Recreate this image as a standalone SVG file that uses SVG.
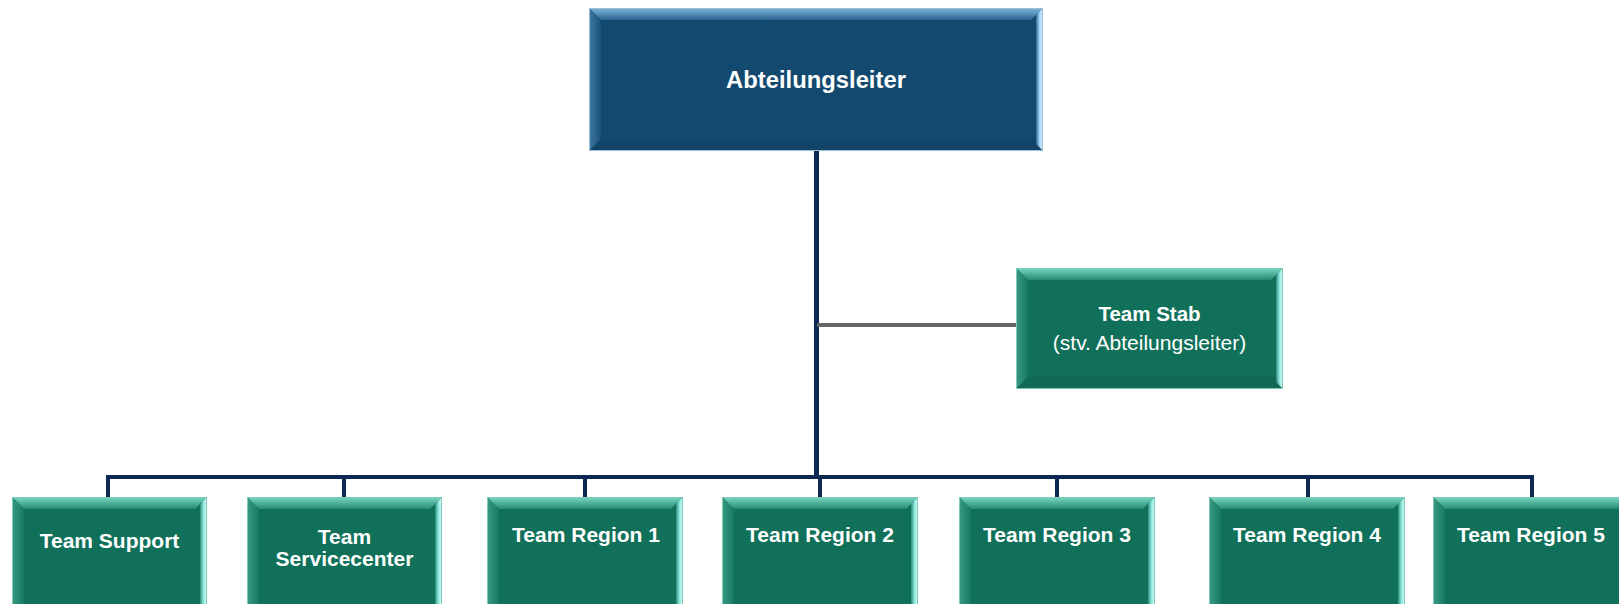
<svg xmlns="http://www.w3.org/2000/svg" width="1619" height="604" viewBox="0 0 1619 604">
<defs>
<linearGradient id="bTop" x1="0" y1="0" x2="0" y2="1"><stop offset="0" stop-color="#7fb6dc"/><stop offset="1" stop-color="#2a6590"/></linearGradient>
<linearGradient id="bLeft" x1="0" y1="0" x2="1" y2="0"><stop offset="0" stop-color="#3f7aa3"/><stop offset="1" stop-color="#1a5178"/></linearGradient>
<linearGradient id="bRight" x1="0" y1="0" x2="1" y2="0"><stop offset="0" stop-color="#2a6896"/><stop offset="0.5" stop-color="#9fd4f5"/><stop offset="1" stop-color="#e8f8ff"/></linearGradient>
<linearGradient id="gTop" x1="0" y1="0" x2="0" y2="1"><stop offset="0" stop-color="#7ad8c2"/><stop offset="1" stop-color="#258a72"/></linearGradient>
<linearGradient id="gLeft" x1="0" y1="0" x2="1" y2="0"><stop offset="0" stop-color="#3a9a82"/><stop offset="1" stop-color="#167a63"/></linearGradient>
<linearGradient id="gRight" x1="0" y1="0" x2="1" y2="0"><stop offset="0" stop-color="#2a8f78"/><stop offset="0.5" stop-color="#8fe6dc"/><stop offset="1" stop-color="#e0fffb"/></linearGradient>
</defs>
<style>
.blue{fill:#13496e}
.green{fill:#10705a}
.edgeB{fill:none;stroke:#9cbfd6;stroke-width:1}
.edgeG{fill:none;stroke:#7fc9b8;stroke-width:1}
.bot{fill:#000;opacity:0.06}
.t{font-family:"Liberation Sans",Arial,sans-serif;fill:#ffffff;text-anchor:middle}
.b{font-weight:bold}
.navy{stroke:#0d2852;fill:none}
.gray{stroke:#666666;stroke-width:4;fill:none}
</style>
<rect width="1619" height="604" fill="#ffffff"/>
<g id="connectors">
<line class="navy" x1="816.5" y1="151" x2="816.5" y2="477" stroke-width="5"/>
<line class="navy" x1="106" y1="477" x2="1534" y2="477" stroke-width="4"/>
<line class="navy" x1="108" y1="477" x2="108" y2="497" stroke-width="4"/>
<line class="navy" x1="344" y1="477" x2="344" y2="497" stroke-width="4"/>
<line class="navy" x1="585" y1="477" x2="585" y2="497" stroke-width="4"/>
<line class="navy" x1="820" y1="477" x2="820" y2="497" stroke-width="4"/>
<line class="navy" x1="1057" y1="477" x2="1057" y2="497" stroke-width="4"/>
<line class="navy" x1="1308" y1="477" x2="1308" y2="497" stroke-width="4"/>
<line class="navy" x1="1532" y1="477" x2="1532" y2="497" stroke-width="4"/>
<line class="gray" x1="817" y1="325" x2="1017" y2="325"/>
</g>
<g id="abteilungsleiter">
<rect class="blue" x="589" y="8" width="454" height="143"/>
<polygon fill="url(#bTop)" points="589,8 1043,8 1031,20 601,20"/>
<polygon fill="url(#bLeft)" points="589,8 601,20 601,139 589,151"/>
<polygon fill="url(#bRight)" points="1043,8 1043,151 1036,144 1036,15"/>
<polygon class="bot" points="589,151 601,139 1036,139 1043,151"/>
<rect class="edgeB" x="589.5" y="8.5" width="453" height="142"/>
<text class="t b" x="816" y="88" font-size="23.8">Abteilungsleiter</text>
</g>
<g id="team-stab">
<rect class="green" x="1016" y="268" width="267" height="121"/>
<polygon fill="url(#gTop)" points="1016,268 1283,268 1271,280 1028,280"/>
<polygon fill="url(#gLeft)" points="1016,268 1028,280 1028,377 1016,389"/>
<polygon fill="url(#gRight)" points="1283,268 1283,389 1276,382 1276,275"/>
<polygon class="bot" points="1016,389 1028,377 1276,377 1283,389"/>
<rect class="edgeG" x="1016.5" y="268.5" width="266" height="120"/>
<text class="t b" x="1149.5" y="321" font-size="20.5">Team Stab</text>
<text class="t" x="1149.5" y="350" font-size="21">(stv. Abteilungsleiter)</text>
</g>
<g id="team-support">
<rect class="green" x="12" y="497" width="195" height="121"/>
<polygon fill="url(#gTop)" points="12,497 207,497 195,509 24,509"/>
<polygon fill="url(#gLeft)" points="12,497 24,509 24,618 12,618"/>
<polygon fill="url(#gRight)" points="207,497 207,618 200,618 200,504"/>
<rect class="edgeG" x="12.5" y="497.5" width="194" height="120"/>
<text class="t b" x="109.5" y="548" font-size="21">Team Support</text>
</g>
<g id="team-servicecenter">
<rect class="green" x="247" y="497" width="195" height="121"/>
<polygon fill="url(#gTop)" points="247,497 442,497 430,509 259,509"/>
<polygon fill="url(#gLeft)" points="247,497 259,509 259,618 247,618"/>
<polygon fill="url(#gRight)" points="442,497 442,618 435,618 435,504"/>
<rect class="edgeG" x="247.5" y="497.5" width="194" height="120"/>
<text class="t b" x="344.5" y="544" font-size="21">Team</text>
<text class="t b" x="344.5" y="566" font-size="21">Servicecenter</text>
</g>
<g id="team-region-1">
<rect class="green" x="487" y="497" width="196" height="121"/>
<polygon fill="url(#gTop)" points="487,497 683,497 671,509 499,509"/>
<polygon fill="url(#gLeft)" points="487,497 499,509 499,618 487,618"/>
<polygon fill="url(#gRight)" points="683,497 683,618 676,618 676,504"/>
<rect class="edgeG" x="487.5" y="497.5" width="195" height="120"/>
<text class="t b" x="586" y="542" font-size="21">Team Region 1</text>
</g>
<g id="team-region-2">
<rect class="green" x="722" y="497" width="196" height="121"/>
<polygon fill="url(#gTop)" points="722,497 918,497 906,509 734,509"/>
<polygon fill="url(#gLeft)" points="722,497 734,509 734,618 722,618"/>
<polygon fill="url(#gRight)" points="918,497 918,618 911,618 911,504"/>
<rect class="edgeG" x="722.5" y="497.5" width="195" height="120"/>
<text class="t b" x="820" y="542" font-size="21">Team Region 2</text>
</g>
<g id="team-region-3">
<rect class="green" x="959" y="497" width="196" height="121"/>
<polygon fill="url(#gTop)" points="959,497 1155,497 1143,509 971,509"/>
<polygon fill="url(#gLeft)" points="959,497 971,509 971,618 959,618"/>
<polygon fill="url(#gRight)" points="1155,497 1155,618 1148,618 1148,504"/>
<rect class="edgeG" x="959.5" y="497.5" width="195" height="120"/>
<text class="t b" x="1057" y="542" font-size="21">Team Region 3</text>
</g>
<g id="team-region-4">
<rect class="green" x="1209" y="497" width="196" height="121"/>
<polygon fill="url(#gTop)" points="1209,497 1405,497 1393,509 1221,509"/>
<polygon fill="url(#gLeft)" points="1209,497 1221,509 1221,618 1209,618"/>
<polygon fill="url(#gRight)" points="1405,497 1405,618 1398,618 1398,504"/>
<rect class="edgeG" x="1209.5" y="497.5" width="195" height="120"/>
<text class="t b" x="1307" y="542" font-size="21">Team Region 4</text>
</g>
<g id="team-region-5">
<rect class="green" x="1433" y="497" width="196" height="121"/>
<polygon fill="url(#gTop)" points="1433,497 1629,497 1617,509 1445,509"/>
<polygon fill="url(#gLeft)" points="1433,497 1445,509 1445,618 1433,618"/>
<rect class="edgeG" x="1433.5" y="497.5" width="195" height="120"/>
<text class="t b" x="1531" y="542" font-size="21">Team Region 5</text>
</g>
</svg>
